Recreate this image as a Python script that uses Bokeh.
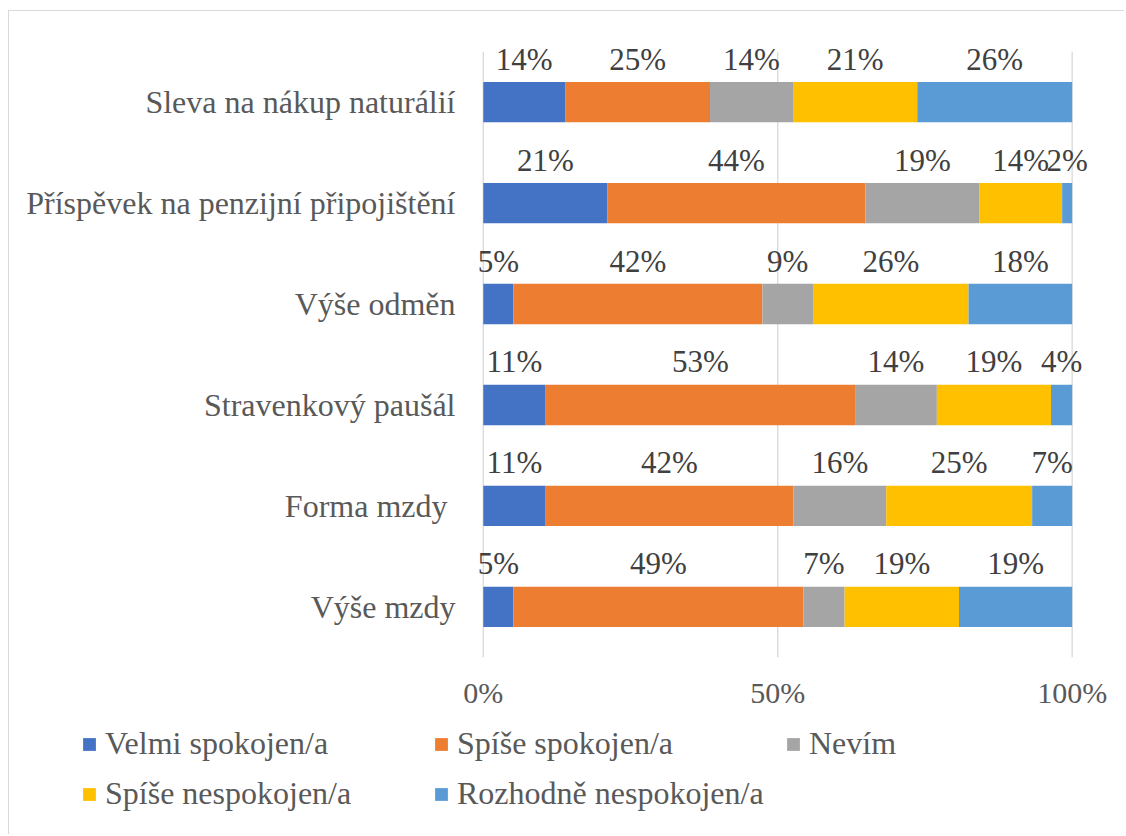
from bokeh.plotting import figure
from bokeh.models import (ColumnDataSource, FactorRange, Range1d, FixedTicker,
                          NumeralTickFormatter, Legend, LegendItem)
from bokeh.core.properties import value
from bokeh.embed import file_html
from bokeh.resources import INLINE

# ---------------- data ----------------
categories = ["Sleva na nákup naturálií",
              "Příspěvek na penzijní připojištění",
              "Výše odměn",
              "Stravenkový paušál",
              "Forma mzdy ",
              "Výše mzdy"]
series_names = ["Velmi spokojen/a", "Spíše spokojen/a", "Nevím",
                "Spíše nespokojen/a", "Rozhodně nespokojen/a"]
velmi_spokojen = [13.9, 21.1, 5.1, 10.6, 10.6, 5.1]
spise_spokojen = [24.6, 43.8, 42.3, 52.6, 42.1, 49.2]
nevim = [14.1, 19.3, 8.6, 13.9, 15.8, 7.0]
spise_nespokojen = [21.1, 14.1, 26.4, 19.4, 24.8, 19.4]
rozhodne_nespokojen = [26.3, 1.7, 17.6, 3.6, 6.8, 19.2]
tick_values = [0, 0.5, 1]
colors = ["#4472C4", "#ED7D31", "#A5A5A5", "#FFC000", "#5B9BD5"]

series = [velmi_spokojen, spise_spokojen, nevim, spise_nespokojen, rozhodne_nespokojen]
totals = [sum(vals) for vals in zip(*series)]

FONT_NAME = "'Liberation Serif', 'Times New Roman', serif"
FONT = value(FONT_NAME)
TXT = "#595959"

# ---------------- main chart ----------------
p = figure(y_range=FactorRange(factors=categories[::-1], range_padding=0.15,
                               range_padding_units="absolute"),
           x_range=Range1d(-0.02, 1.06),
           width=1116, height=709,
           output_backend="svg", toolbar_location=None,
           min_border_left=462, min_border_right=18,
           min_border_top=25, min_border_bottom=48)
p.styles = {"margin-left": "8px", "margin-top": "10px",
            "border-top": "1px solid #D9D9D9", "border-left": "1px solid #D9D9D9"}
p.outline_line_color = None
p.background_fill_color = "white"
p.border_fill_color = "white"

# vertical gridlines spanning exactly the category band
p.segment(x0=tick_values, x1=tick_values,
          y0=[0] * len(tick_values), y1=[len(categories)] * len(tick_values),
          line_color="#D9D9D9", line_width=1.3, level="underlay")

left = [0.0] * len(categories)
for name, vals, col in zip(series_names, series, colors):
    fr = [v / t for v, t in zip(vals, totals)]
    right = [l + f for l, f in zip(left, fr)]
    src = ColumnDataSource(dict(
        cat=categories, left=left, right=right,
        mid=[(l + r) / 2 for l, r in zip(left, right)],
        label=["%d%%" % int(round(v)) for v in vals]))
    p.hbar(y="cat", left="left", right="right", height=0.4,
           fill_color=col, line_color=None, source=src)
    p.text(x="mid", y="cat", text="label", source=src,
           text_align="center", text_baseline="middle", y_offset=-43,
           text_font=FONT, text_font_size="31px", text_color="#404040")
    left = right

p.xaxis.ticker = FixedTicker(ticks=tick_values)
p.xaxis.formatter = NumeralTickFormatter(format="0%")
p.xaxis.axis_line_color = None
p.xaxis.major_tick_line_color = None
p.xaxis.minor_tick_line_color = None
p.xaxis.major_tick_out = 0
p.xaxis.major_label_standoff = 3
p.xaxis.major_label_text_font = FONT_NAME
p.xaxis.major_label_text_font_size = "30px"
p.xaxis.major_label_text_color = TXT

p.yaxis.axis_line_color = None
p.yaxis.major_tick_line_color = None
p.yaxis.major_tick_out = 0
p.yaxis.major_label_standoff = 16
p.yaxis.major_label_text_font = FONT_NAME
p.yaxis.major_label_text_font_size = "32px"
p.yaxis.major_label_text_color = TXT

p.xgrid.visible = False
p.ygrid.visible = False

# ---------------- legend strip (separate root, no frame alignment) ----------------
lg = figure(width=1116, height=115, x_range=Range1d(0, 1), y_range=Range1d(0, 1),
            output_backend="svg", toolbar_location=None,
            min_border_left=0, min_border_right=0, min_border_top=0, min_border_bottom=0)
lg.styles = {"margin-left": "8px", "border-left": "1px solid #D9D9D9"}
lg.axis.visible = False
lg.grid.visible = False
lg.outline_line_color = None
lg.background_fill_color = "white"
lg.border_fill_color = "white"

legend_renderers = [lg.hbar(y=[5], left=[5], right=[6], height=0.4,
                            fill_color=col, line_color=None) for col in colors]

col_x = [72, 424, 776]
row_y = [72, 22]
for i, (name, r) in enumerate(zip(series_names, legend_renderers)):
    row, c = divmod(i, 3)
    leg = Legend(items=[LegendItem(label=name, renderers=[r])],
                 location=(col_x[c], row_y[row]),
                 orientation="horizontal",
                 glyph_width=16, glyph_height=16, label_standoff=8,
                 label_height=36, padding=0, margin=0, spacing=0,
                 border_line_color=None, background_fill_alpha=0,
                 label_text_font=FONT_NAME, label_text_font_size="32px",
                 label_text_color=TXT)
    lg.add_layout(leg)

open("out.html", "w").write(file_html((p, lg), INLINE))
